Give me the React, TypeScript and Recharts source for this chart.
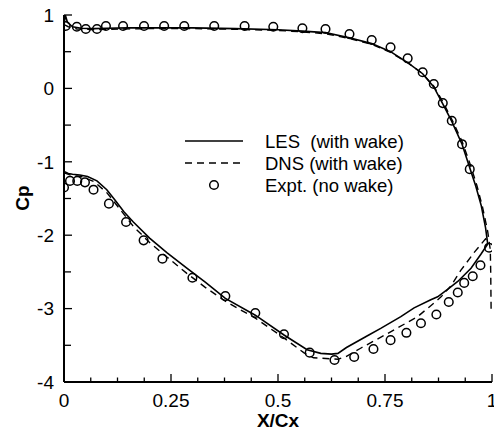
import React from 'react';
import { ComposedChart, Line, Scatter, XAxis, YAxis, Legend } from 'recharts';

const FONT = '"Liberation Sans", Arial, Helvetica, sans-serif';

// LES (with wake) - pressure side, leading edge -> trailing edge
const lesPressure: [number, number][] = [
  [0.0, 0.86], [0.003, 1.0], [0.008, 0.9], [0.02, 0.84], [0.04, 0.82], [0.07, 0.815],
  [0.1, 0.82], [0.15, 0.825], [0.2, 0.825], [0.3, 0.825], [0.4, 0.815], [0.5, 0.8],
  [0.557, 0.78], [0.611, 0.76], [0.667, 0.69], [0.719, 0.61], [0.763, 0.5], [0.803, 0.35],
  [0.838, 0.2], [0.864, 0.02], [0.885, -0.21], [0.906, -0.45], [0.93, -0.76], [0.948, -1.08],
  [0.962, -1.33], [0.975, -1.6], [0.985, -1.9], [0.99, -2.12],
];
// LES (with wake) - suction side
const lesSuction: [number, number][] = [
  [0.0, -1.13], [0.01, -1.16], [0.02, -1.17], [0.037, -1.18], [0.055, -1.2], [0.077, -1.26],
  [0.1, -1.38], [0.119, -1.52], [0.14, -1.68], [0.162, -1.82], [0.2, -2.04], [0.241, -2.24],
  [0.287, -2.45], [0.33, -2.64], [0.377, -2.86], [0.447, -3.09], [0.514, -3.36], [0.568, -3.56],
  [0.6, -3.61], [0.625, -3.62], [0.64, -3.61], [0.66, -3.53], [0.709, -3.37], [0.74, -3.27],
  [0.787, -3.11], [0.818, -2.99], [0.857, -2.88], [0.873, -2.84], [0.9, -2.72], [0.92, -2.63],
  [0.951, -2.45], [0.974, -2.26], [0.99, -2.12],
];
// DNS (with wake) - pressure side (runs round the trailing edge)
const dnsPressure: [number, number][] = [
  [0.0, 0.87], [0.01, 0.84], [0.03, 0.81], [0.07, 0.8], [0.1, 0.805], [0.2, 0.815],
  [0.3, 0.815], [0.4, 0.805], [0.5, 0.79], [0.557, 0.77], [0.611, 0.745], [0.667, 0.68],
  [0.719, 0.6], [0.763, 0.49], [0.803, 0.35], [0.838, 0.2], [0.864, 0.03], [0.885, -0.18],
  [0.906, -0.42], [0.93, -0.72], [0.95, -1.05], [0.965, -1.33], [0.978, -1.62], [0.99, -1.95],
  [0.996, -2.2], [0.997, -2.5], [0.998, -3.05],
];
// DNS (with wake) - suction side
const dnsSuction: [number, number][] = [
  [0.0, -1.15], [0.02, -1.19], [0.04, -1.2], [0.07, -1.27], [0.1, -1.42], [0.13, -1.64],
  [0.162, -1.88], [0.2, -2.1], [0.241, -2.3], [0.287, -2.52], [0.33, -2.71], [0.377, -2.9],
  [0.447, -3.13], [0.514, -3.4], [0.56, -3.6], [0.583, -3.67], [0.64, -3.69], [0.66, -3.65],
  [0.693, -3.54], [0.756, -3.34], [0.826, -3.11], [0.857, -2.96], [0.881, -2.84], [0.904, -2.69],
  [0.927, -2.48], [0.959, -2.23], [0.985, -2.05], [0.993, -2.1],
];
// Expt. (no wake)
const exptPressure: [number, number][] = [
  [0.004, 0.85], [0.03, 0.84], [0.051, 0.81], [0.077, 0.81], [0.098, 0.85], [0.138, 0.85],
  [0.187, 0.85], [0.234, 0.85], [0.281, 0.85], [0.351, 0.85], [0.422, 0.85], [0.489, 0.84],
  [0.557, 0.82], [0.611, 0.81], [0.667, 0.74], [0.719, 0.66], [0.763, 0.56], [0.803, 0.41],
  [0.838, 0.22], [0.864, 0.06], [0.885, -0.2], [0.906, -0.44], [0.93, -0.76], [0.948, -1.1],
];
const exptSuction: [number, number][] = [
  [0.0, -1.35], [0.014, -1.26], [0.031, -1.26], [0.049, -1.28], [0.069, -1.38], [0.105, -1.57],
  [0.145, -1.82], [0.186, -2.07], [0.23, -2.32], [0.3, -2.58], [0.377, -2.83], [0.447, -3.06],
  [0.514, -3.35], [0.574, -3.6], [0.632, -3.7], [0.678, -3.66], [0.723, -3.55], [0.763, -3.43],
  [0.8, -3.33], [0.834, -3.2], [0.87, -3.08], [0.899, -2.91], [0.92, -2.78], [0.935, -2.65],
  [0.955, -2.56], [0.973, -2.41], [0.993, -2.17],
];

const xMajorTicks = [0, 0.25, 0.5, 0.75, 1];
const xTickLabels = ['0', '0.25', '0.5', '0.75', '1'];
const xMinorTicks = [0.0625, 0.125, 0.1875, 0.3125, 0.375, 0.4375, 0.5625, 0.625, 0.6875, 0.8125, 0.875, 0.9375];
const yMajorTicks = [-4, -3, -2, -1, 0, 1];
const yTickLabels = ['-4', '-3', '-2', '-1', '0', '1'];
const yMinorTicks = [-3.5, -2.5, -1.5, -0.5, 0.5];

const legendLabels = ['LES  (with wake)', 'DNS (with wake)', 'Expt. (no wake)'];

const toPts = (a: [number, number][]) => a.map(([x, y]) => ({ x, y }));

const XTick = (props: any) => {
  const { x, y, payload } = props;
  const idx = xMajorTicks.indexOf(payload.value);
  const major = idx >= 0;
  return (
    <g>
      <line x1={x} x2={x} y1={y} y2={y - (major ? 8 : 4.5)} stroke="#000" strokeWidth={1.3} />
      {major && (
        <text x={x} y={y + 25} textAnchor="middle" fontSize={19} fontFamily={FONT} fill="#000">
          {xTickLabels[idx]}
        </text>
      )}
    </g>
  );
};

const YTick = (props: any) => {
  const { x, y, payload } = props;
  const idx = yMajorTicks.indexOf(payload.value);
  const major = idx >= 0;
  return (
    <g>
      <line x1={x} x2={x + (major ? 8 : 7)} y1={y} y2={y} stroke="#000" strokeWidth={1.3} />
      {major && (
        <text x={x - 10} y={y + 6.8} textAnchor="end" fontSize={19} fontFamily={FONT} fill="#000">
          {yTickLabels[idx]}
        </text>
      )}
    </g>
  );
};

const Circle = (props: any) => {
  const { cx, cy } = props;
  if (cx == null || cy == null) return null;
  return <circle cx={cx} cy={cy} r={4.3} fill="none" stroke="#000" strokeWidth={1.5} />;
};

const LegendBox = () => (
  <svg width={240} height={72} style={{ display: 'block', overflow: 'visible' }}>
    <line x1={5} x2={63} y1={12} y2={12} stroke="#000" strokeWidth={1.6} />
    <text x={85} y={18.5} fontSize={18.5} fontFamily={FONT} fill="#000" style={{ whiteSpace: 'pre' }}>{legendLabels[0]}</text>
    <line x1={5} x2={63} y1={34} y2={34} stroke="#000" strokeWidth={1.5} strokeDasharray="7 5" />
    <text x={85} y={40.5} fontSize={18.5} fontFamily={FONT} fill="#000" style={{ whiteSpace: 'pre' }}>{legendLabels[1]}</text>
    <circle cx={34} cy={56} r={4.3} fill="none" stroke="#000" strokeWidth={1.5} />
    <text x={85} y={62.5} fontSize={18.5} fontFamily={FONT} fill="#000" style={{ whiteSpace: 'pre' }}>{legendLabels[2]}</text>
  </svg>
);

export default function App() {
  return (
    <div style={{ position: 'absolute', left: 0, top: 0, width: 494, height: 433, background: '#fff' }}>
      <ComposedChart width={494} height={433} margin={{ top: 15, right: 2, bottom: 0, left: 0 }}>
        <XAxis
          xAxisId="b"
          dataKey="x"
          type="number"
          domain={[0, 1]}
          ticks={[...xMajorTicks, ...xMinorTicks].sort((a, b) => a - b)}
          interval={0}
          tick={<XTick />}
          tickLine={false}
          tickSize={0}
          tickMargin={0}
          height={51}
          axisLine={{ stroke: '#000', strokeWidth: 2 }}
          allowDataOverflow
        />
        <XAxis xAxisId="t" orientation="top" type="number" domain={[0, 1]} height={0} tick={false} tickLine={false}
          axisLine={{ stroke: '#000', strokeWidth: 2 }} />
        <YAxis
          yAxisId="l"
          dataKey="y"
          type="number"
          domain={[-4, 1]}
          ticks={[...yMajorTicks, ...yMinorTicks].sort((a, b) => a - b)}
          interval={0}
          tick={<YTick />}
          tickLine={false}
          tickSize={0}
          tickMargin={0}
          width={64}
          axisLine={{ stroke: '#000', strokeWidth: 2 }}
          allowDataOverflow
        />
        <YAxis yAxisId="r" orientation="right" type="number" domain={[-4, 1]} width={0} tick={false} tickLine={false}
          axisLine={{ stroke: '#000', strokeWidth: 2 }} />
        <Legend layout="vertical" align="center" verticalAlign="middle" content={<LegendBox />}
          wrapperStyle={{ left: 180, top: 129, width: 240, height: 72 }} />
        <Line xAxisId="b" yAxisId="l" data={toPts(lesPressure)} dataKey="y" type="linear" stroke="#000" strokeWidth={1.6}
          dot={false} isAnimationActive={false} name="LES (with wake)" legendType="none" />
        <Line xAxisId="b" yAxisId="l" data={toPts(lesSuction)} dataKey="y" type="linear" stroke="#000" strokeWidth={1.6}
          dot={false} isAnimationActive={false} legendType="none" />
        <Line xAxisId="b" yAxisId="l" data={toPts(dnsPressure)} dataKey="y" type="linear" stroke="#000" strokeWidth={1.4}
          strokeDasharray="7 5" dot={false} isAnimationActive={false} legendType="none" />
        <Line xAxisId="b" yAxisId="l" data={toPts(dnsSuction)} dataKey="y" type="linear" stroke="#000" strokeWidth={1.4}
          strokeDasharray="7 5" dot={false} isAnimationActive={false} legendType="none" />
        <Scatter xAxisId="b" yAxisId="l" data={toPts(exptPressure)} dataKey="y" shape={<Circle />} isAnimationActive={false} legendType="none" />
        <Scatter xAxisId="b" yAxisId="l" data={toPts(exptSuction)} dataKey="y" shape={<Circle />} isAnimationActive={false} legendType="none" />
        <text x={278} y={427} textAnchor="middle" fontSize={19} fontWeight="bold" fontFamily={FONT} fill="#000">X/Cx</text>
        <text x={29} y={198} textAnchor="middle" fontSize={19} fontWeight="bold" fontFamily={FONT} fill="#000"
          transform="rotate(-90 29 198)">Cp</text>
      </ComposedChart>
    </div>
  );
}
